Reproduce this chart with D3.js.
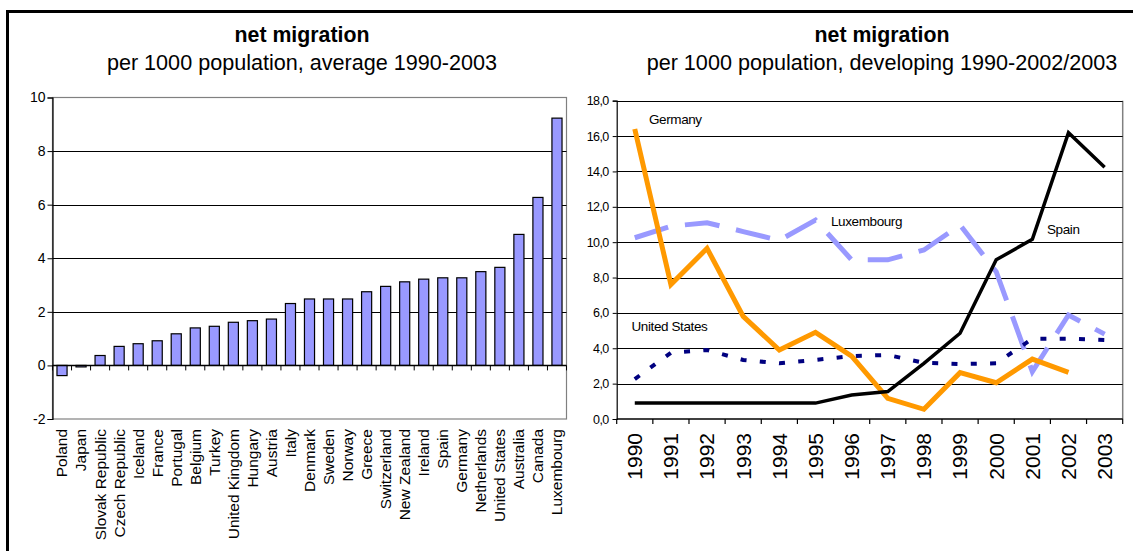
<!DOCTYPE html>
<html>
<head>
<meta charset="utf-8">
<script src="https://cdn.jsdelivr.net/npm/d3@7"></script>
<style>
  html, body { margin: 0; padding: 0; background: #fff; }
  svg { display: block; font-family: "Liberation Sans", Arial, sans-serif; }
</style>
</head>
<body>
<svg id="chart" width="1133" height="551"></svg>
<script>
// ---------- DATA ----------
const countries = ["Poland","Japan","Slovak Republic","Czech Republic","Iceland","France","Portugal","Belgium","Turkey","United Kingdom","Hungary","Austria","Italy","Denmark","Sweden","Norway","Greece","Switzerland","New Zealand","Ireland","Spain","Germany","Netherlands","United States","Australia","Canada","Luxembourg"];
const avgMigration = [-0.38,-0.05,0.37,0.71,0.81,0.92,1.18,1.40,1.46,1.61,1.67,1.73,2.31,2.48,2.48,2.48,2.75,2.95,3.12,3.22,3.27,3.27,3.50,3.66,4.89,6.27,9.23];
const leftTicks = [-2,0,2,4,6,8,10];

const years = ["1990","1991","1992","1993","1994","1995","1996","1997","1998","1999","2000","2001","2002","2003"];
const germany    = [16.4,7.6,9.65,5.8,3.9,4.9,3.55,1.17,0.55,2.62,2.05,3.39,2.64,null];
const spain      = [0.9,0.9,0.9,0.9,0.9,0.9,1.36,1.55,3.15,4.85,9.0,10.16,16.19,14.24];
const luxembourg = [10.25,10.9,11.1,10.6,10.1,11.25,9.0,9.0,9.56,10.97,8.33,2.68,5.88,4.8];
const unitedStates = [2.26,3.75,3.9,3.34,3.15,3.34,3.56,3.62,3.18,3.11,3.15,4.54,4.54,4.47];
const rightTicks = [0,2,4,6,8,10,12,14,16,18];

const svg = d3.select("#chart");

// ---------- OUTER FRAME ----------
svg.append("line").attr("x1",7.5).attr("x2",7.5).attr("y1",10).attr("y2",551).attr("stroke","#000").attr("stroke-width",3);
svg.append("line").attr("x1",6).attr("x2",1133).attr("y1",11.5).attr("y2",11.5).attr("stroke","#000").attr("stroke-width",3);

// ---------- LEFT CHART ----------
const L = {x0: 52.5, x1: 566.5, y0: 419, y1: 97.5};
const xL = d3.scaleBand().domain(countries).range([L.x0, L.x1]).paddingInner(0.47).paddingOuter(0.235);
const yL = d3.scaleLinear().domain([-2,10]).range([L.y0, L.y1]);

svg.append("text").attr("x",302).attr("y",42).attr("text-anchor","middle")
  .attr("font-size",21.3).attr("font-weight","bold").text("net migration");
svg.append("text").attr("x",302).attr("y",70).attr("text-anchor","middle")
  .attr("font-size",21.6).text("per 1000 population, average 1990-2003");

// plot border
svg.append("rect").attr("x",L.x0).attr("y",yL(10)).attr("width",L.x1-L.x0).attr("height",yL(-2)-yL(10))
  .attr("fill","none").attr("stroke","#808080").attr("stroke-width",1.2);
// gridlines
svg.append("g").selectAll("line").data(leftTicks.filter(t => t > 0 && t < 10)).join("line")
  .attr("x1",L.x0).attr("x2",L.x1).attr("y1",d=>Math.round(yL(d))+0.5).attr("y2",d=>Math.round(yL(d))+0.5)
  .attr("stroke","#000").attr("stroke-width",1);

// bars
svg.append("g").selectAll("rect").data(countries).join("rect")
  .attr("x", c => xL(c))
  .attr("width", xL.bandwidth())
  .attr("y", (c,i) => yL(Math.max(0, avgMigration[i])))
  .attr("height", (c,i) => Math.max(1.5, Math.abs(yL(avgMigration[i]) - yL(0))))
  .attr("fill","#9999FF").attr("stroke","#000").attr("stroke-width",1.2);

// y axis
const yAxisL = d3.axisLeft(yL).tickValues(leftTicks).tickSize(5).tickFormat(d => String(d));
const gyL = svg.append("g").attr("transform",`translate(${L.x0},0)`).call(yAxisL);
gyL.select(".domain").attr("stroke","#000").attr("stroke-width",1.2);
gyL.selectAll(".tick line").attr("stroke","#000");
gyL.selectAll("text").attr("font-size",14).attr("fill","#000").attr("font-family","Liberation Sans, Arial, sans-serif").attr("x",-7);

// zero axis line with ticks at boundaries
svg.append("line").attr("x1",L.x0).attr("x2",L.x1).attr("y1",yL(0)).attr("y2",yL(0)).attr("stroke","#000").attr("stroke-width",1.5);
const stepL = xL.step();
const boundsL = d3.range(countries.length + 1).map(i => L.x0 + i * stepL);
svg.append("g").selectAll("line").data(boundsL).join("line")
  .attr("x1",d=>d).attr("x2",d=>d).attr("y1",yL(0)).attr("y2",yL(0)+5).attr("stroke","#000").attr("stroke-width",1);

// category labels
svg.append("g").selectAll("text").data(countries).join("text")
  .attr("transform", c => `translate(${xL(c) + xL.bandwidth()/2},429) rotate(-90)`)
  .attr("text-anchor","end").attr("dy","0.35em").attr("font-size",15.5).text(c => c);

// ---------- RIGHT CHART ----------
const R = {x0: 616.7, x1: 1122.7, y0: 419, y1: 100.7};
const xR = d3.scalePoint().domain(years).range([R.x0, R.x1]).padding(0.5);
const yR = d3.scaleLinear().domain([0,18]).range([R.y0, R.y1]);

svg.append("text").attr("x",882).attr("y",42).attr("text-anchor","middle")
  .attr("font-size",21.3).attr("font-weight","bold").text("net migration");
svg.append("text").attr("x",882).attr("y",70).attr("text-anchor","middle")
  .attr("font-size",21.6).text("per 1000 population, developing 1990-2002/2003");

// right border (gray)
svg.append("line").attr("x1",R.x1).attr("x2",R.x1).attr("y1",R.y1).attr("y2",R.y0).attr("stroke","#808080").attr("stroke-width",1.5);
// gridlines
svg.append("g").selectAll("line").data(rightTicks.filter(t => t > 0)).join("line")
  .attr("x1",R.x0).attr("x2",R.x1).attr("y1",d=>Math.round(yR(d))+0.5).attr("y2",d=>Math.round(yR(d))+0.5)
  .attr("stroke","#000").attr("stroke-width",1);

const yAxisR = d3.axisLeft(yR).tickValues(rightTicks).tickSize(4).tickFormat(d => d.toFixed(1).replace(".", ","));
const gyR = svg.append("g").attr("transform",`translate(${R.x0},0)`).call(yAxisR);
gyR.select(".domain").attr("stroke","#000").attr("stroke-width",1.2);
gyR.selectAll(".tick line").attr("stroke","#000");
gyR.selectAll("text").attr("font-size",12.5).attr("letter-spacing","-0.6px").attr("fill","#000")
  .attr("font-family","Liberation Sans, Arial, sans-serif").attr("x",-8);

// x axis
svg.append("line").attr("x1",R.x0).attr("x2",R.x1).attr("y1",yR(0)).attr("y2",yR(0)).attr("stroke","#000").attr("stroke-width",1.5);
const stepR = xR.step();
const boundsR = d3.range(years.length + 1).map(i => R.x0 + i * stepR);
svg.append("g").selectAll("line").data(boundsR).join("line")
  .attr("x1",d=>d).attr("x2",d=>d).attr("y1",yR(0)).attr("y2",yR(0)+5).attr("stroke","#000").attr("stroke-width",1.2);
svg.append("g").selectAll("text").data(years).join("text")
  .attr("transform", y => `translate(${xR(y)},433) rotate(-90)`)
  .attr("text-anchor","end").attr("dy","0.35em").attr("font-size",21).text(y => y);

// lines
const line = d3.line().defined(d => d[1] != null).x(d => xR(d[0])).y(d => yR(d[1]));
const pairs = arr => years.map((y,i) => [y, arr[i]]);

svg.append("path").attr("d", line(pairs(luxembourg))).attr("fill","none")
  .attr("stroke","#9999FF").attr("stroke-width",5).attr("stroke-dasharray","35,17").attr("stroke-linejoin","miter");
svg.append("path").attr("d", line(pairs(unitedStates))).attr("fill","none")
  .attr("stroke","#000080").attr("stroke-width",4).attr("stroke-dasharray","6,13.3");
svg.append("path").attr("d", line(pairs(germany))).attr("fill","none")
  .attr("stroke","#FF9900").attr("stroke-width",5).attr("stroke-linejoin","miter");
svg.append("path").attr("d", line(pairs(spain))).attr("fill","none")
  .attr("stroke","#000").attr("stroke-width",3.5).attr("stroke-linejoin","miter");

// series labels
const lbl = (x, y, t) => svg.append("text").attr("x",x).attr("y",y).attr("dy","0.35em")
  .attr("font-size",13.5).attr("letter-spacing","-0.4px").text(t);
lbl(649, 119.5, "Germany");
lbl(831, 221.5, "Luxembourg");
lbl(1047, 229, "Spain");
lbl(631.5, 326, "United States");
</script>
</body>
</html>
